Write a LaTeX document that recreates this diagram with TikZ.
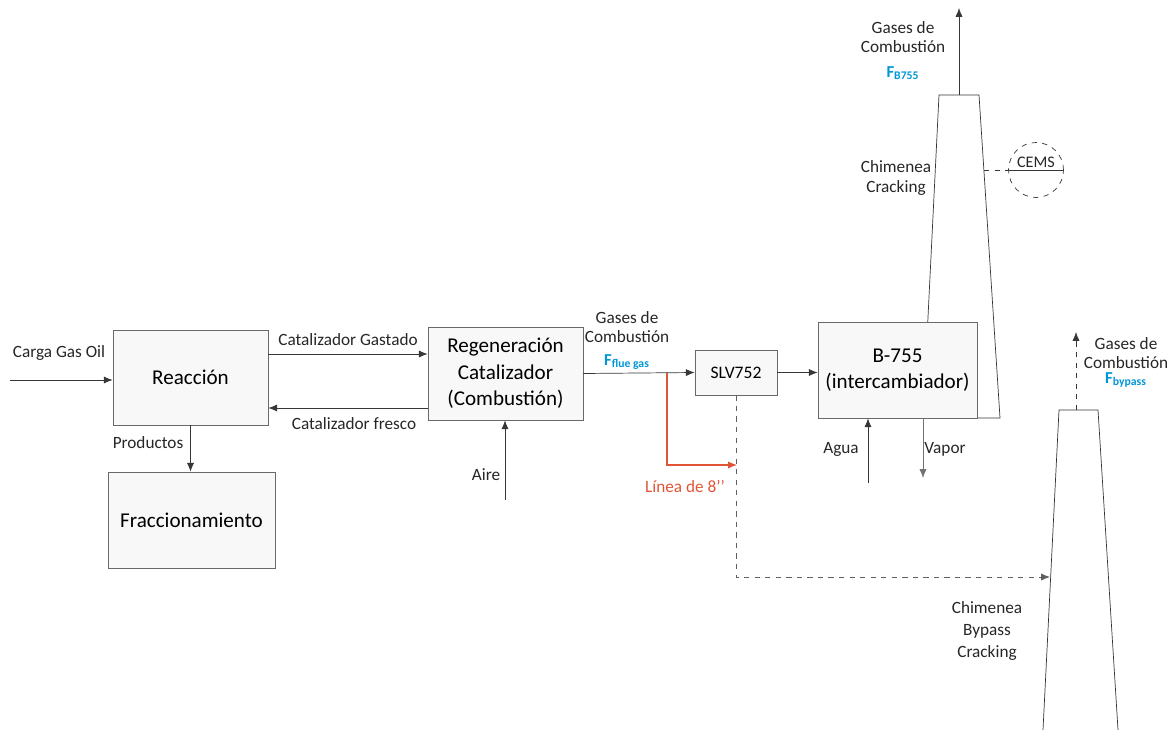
\documentclass[tikz,border=0pt]{standalone}
\usepackage{fontspec}
\setmainfont{Carlito}
\usetikzlibrary{arrows.meta}

\definecolor{linegray}{RGB}{55,55,55}
\definecolor{boxgray}{RGB}{105,105,105}
\definecolor{boxfill}{RGB}{248,248,248}
\definecolor{fblue}{RGB}{0,150,215}
\definecolor{redline}{RGB}{225,85,55}

\tikzset{
  unit/.style={draw=boxgray, fill=boxfill, inner sep=0pt, align=center,
    font=\fontsize{12}{15}\selectfont},
  lbl/.style={inner sep=0pt, align=center, text=black!85,
    font=\fontsize{9.8}{11.2}\selectfont},
  flow/.style={->, draw=linegray},
  fsub/.style={inner sep=0pt, text=fblue, font=\fontsize{9.5}{10}\selectfont\bfseries},
  stack/.style={draw=linegray, fill=white},
}

\begin{document}
\begin{tikzpicture}[x=0.02cm, y=-0.02cm, >={Latex[length=5pt,width=4pt]}]
  \useasboundingbox (0,0) rectangle (1173,730);

  % chimeneas
  \draw[stack] (923,418) -- (939,95) -- (979,95) -- (1000,418) -- cycle;
  \draw[stack] (1043,730) -- (1059,410) -- (1098,410) -- (1118,730);
  \coordinate (top1) at (959,95);
  \coordinate (top2) at (1076,410);
  \coordinate (st1r) at (984,170);
  \coordinate (byin) at (1050,577);

  % unidades
  \node[unit, minimum width=3.1cm, minimum height=1.9cm] (reac) at (190.5,377.5) {Reacción};
  \node[unit, minimum width=3.34cm, minimum height=1.92cm] (frac) at (191.5,520) {Fraccionamiento};
  \node[unit, minimum width=3.1cm, minimum height=1.86cm] (regen) at (505.5,373.5)
    {Regeneración\\Catalizador\\(Combustión)};
  \node[unit, minimum width=1.64cm, minimum height=0.9cm,
    font=\fontsize{10}{11}\selectfont] (slv) at (736,372.5) {SLV752};
  \node[unit, minimum width=3.18cm, minimum height=1.92cm] (bex) at (897.5,370)
    {B-755\\(intercambiador)};

  \node[circle, draw=linegray, dashed, minimum size=1.1cm] (cems) at (1036,170) {};
  \draw[linegray] (cems.west) -- (cems.east);
  \node[lbl, font=\fontsize{9.2}{10}\selectfont] (cemstxt) at (1036,162) {CEMS};

  % entradas y salidas
  \coordinate (carga) at (10,380);
  \coordinate (aire) at (505,500);
  \coordinate (agua) at (868,483);
  \coordinate (vapor) at (923,478);
  \coordinate (gas1) at (959,8);
  \coordinate (gas2) at (1076,332);
  \coordinate (redA) at (667,373);
  \coordinate (redB) at (737,465);

  \draw[flow] (carga) -- (carga -| reac.west);
  \draw[flow] (reac.east |- 0,354) -- (regen.west |- 0,354);
  \draw[flow] (regen.west |- 0,408) -- (reac.east |- 0,408);
  \draw[flow] (reac.south) -- (reac.south |- frac.north);
  \draw[flow] (aire) -- (aire |- regen.south);
  \draw[flow] (regen.east) -- (slv.west);
  \draw[flow] (slv.east) -- (bex.west |- slv.east);
  \draw[flow] (agua) -- (agua |- bex.south);
  \draw[flow, draw=linegray!70] (vapor |- bex.south) -- (vapor);
  \draw[flow] (top1) -- (gas1);
  \draw[flow, dashed] (top2) -- (gas2);
  \draw[->, draw=redline, line width=0.6pt] (redA) |- (redB);
  \draw[flow, dashed, draw=linegray!80] (slv.south) |- (byin);
  \draw[linegray, dashed] (st1r) -- (cems.west);

  % etiquetas
  \node[lbl] (lcarga) at (59,353) {Carga Gas Oil};
  \node[lbl] (lgast) at (348,340) {Catalizador Gastado};
  \node[lbl] (lfres) at (354,424) {Catalizador fresco};
  \node[lbl] (lprod) at (148,443) {Productos};
  \node[lbl] (laire) at (486,475) {Aire};
  \node[lbl] (lgflue) at (627,327) {Gases de\\Combustión};
  \node[fsub] (fflue) at (627,362) {F\textsubscript{flue gas}};
  \node[lbl, text=redline] (lred) at (685,486) {Línea de 8{'}{'}};
  \node[lbl] (lagua) at (841,449) {Agua};
  \node[lbl] (lvap) at (945,449) {Vapor};
  \node[lbl] (lgb) at (903,37) {Gases de\\Combustión};
  \node[fsub] (fb) at (903,73) {F\textsubscript{B755}};
  \node[lbl, font=\fontsize{9.8}{11.5}\selectfont] (lch1) at (896,178) {Chimenea\\Cracking};
  \node[lbl] (lgby) at (1126,353) {Gases de\\Combustión};
  \node[fsub] (fby) at (1126,380) {F\textsubscript{bypass}};
  \node[lbl, font=\fontsize{9.8}{12.5}\selectfont] (lch2) at (987,631) {Chimenea\\Bypass\\Cracking};
\end{tikzpicture}
\end{document}
